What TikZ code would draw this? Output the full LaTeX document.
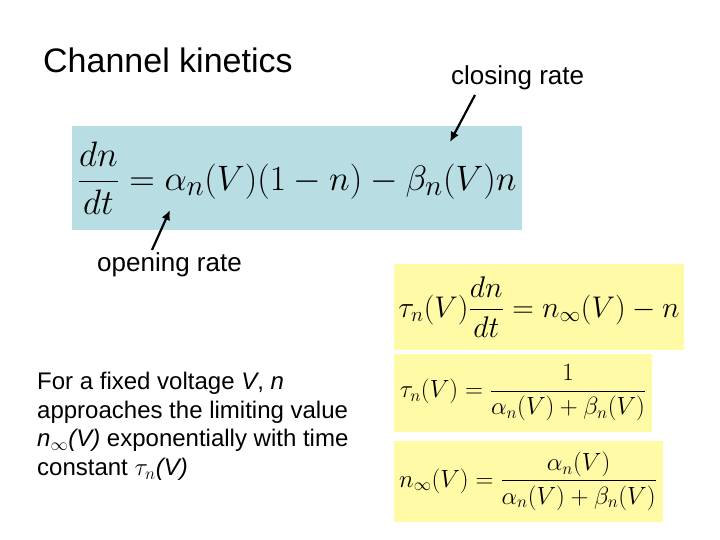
\documentclass[tikz,border=0pt]{standalone}
\usepackage{fontspec}
\setmainfont{Liberation Sans}
\usepackage{amsmath}
\begin{document}
\begin{tikzpicture}[x=1pt,y=-1pt,
  lbl/.style={anchor=west,inner sep=0pt,font=\fontsize{26}{30}\selectfont},
  arr/.style={line width=2.2pt,-{Latex[length=10pt,width=9pt]}},
  yb/.style={fill=yellow!35!white,draw=none}]
\usetikzlibrary{arrows.meta}
\useasboundingbox (0,0) rectangle (720,540);
\node[lbl,font=\fontsize{34}{40}\selectfont] (title) at (43,60) {Channel kinetics};
\node[lbl] (close) at (451,78) {closing rate};
\fill[fill={rgb,255:red,184;green,221;blue,227}] (72,126) rectangle (522,230);
\node[scale=1.42] (eq) at (297,178) {\fontsize{30}{36}\selectfont $\dfrac{dn}{dt}=\alpha_n(V)(1-n)-\beta_n(V)n$};
\coordinate (c1) at (475,95); \coordinate (c2) at (450,142);
\draw[arr] (c1) -- (c2);
\coordinate (o1) at (152,250); \coordinate (o2) at (170,210);
\draw[arr] (o1) -- (o2);
\node[lbl] (open) at (97,265) {opening rate};
\fill[yb] (394,264) rectangle (684,350);
\node[scale=1.2] (e1) at (539,307) {\fontsize{26}{30}\selectfont $\tau_n(V)\dfrac{dn}{dt}=n_\infty(V)-n$};
\fill[yb] (394,354) rectangle (652,432);
\node (e2) at (523,393) {\fontsize{24}{28}\selectfont $\tau_n(V)=\dfrac{1}{\alpha_n(V)+\beta_n(V)}$};
\fill[yb] (394,441) rectangle (663,522);
\node (e3) at (528,481) {\fontsize{24}{28}\selectfont $n_\infty(V)=\dfrac{\alpha_n(V)}{\alpha_n(V)+\beta_n(V)}$};
\node[lbl,anchor=north west,align=left,font=\fontsize{24}{28.7}\selectfont] (txt) at (37,372)
 {For a fixed voltage \textit{V}, \textit{n}\\approaches the limiting value\\\textit{n}$_\infty$\textit{(V)} exponentially with time\\constant $\tau_n$\textit{(V)}};
\end{tikzpicture}
\end{document}
